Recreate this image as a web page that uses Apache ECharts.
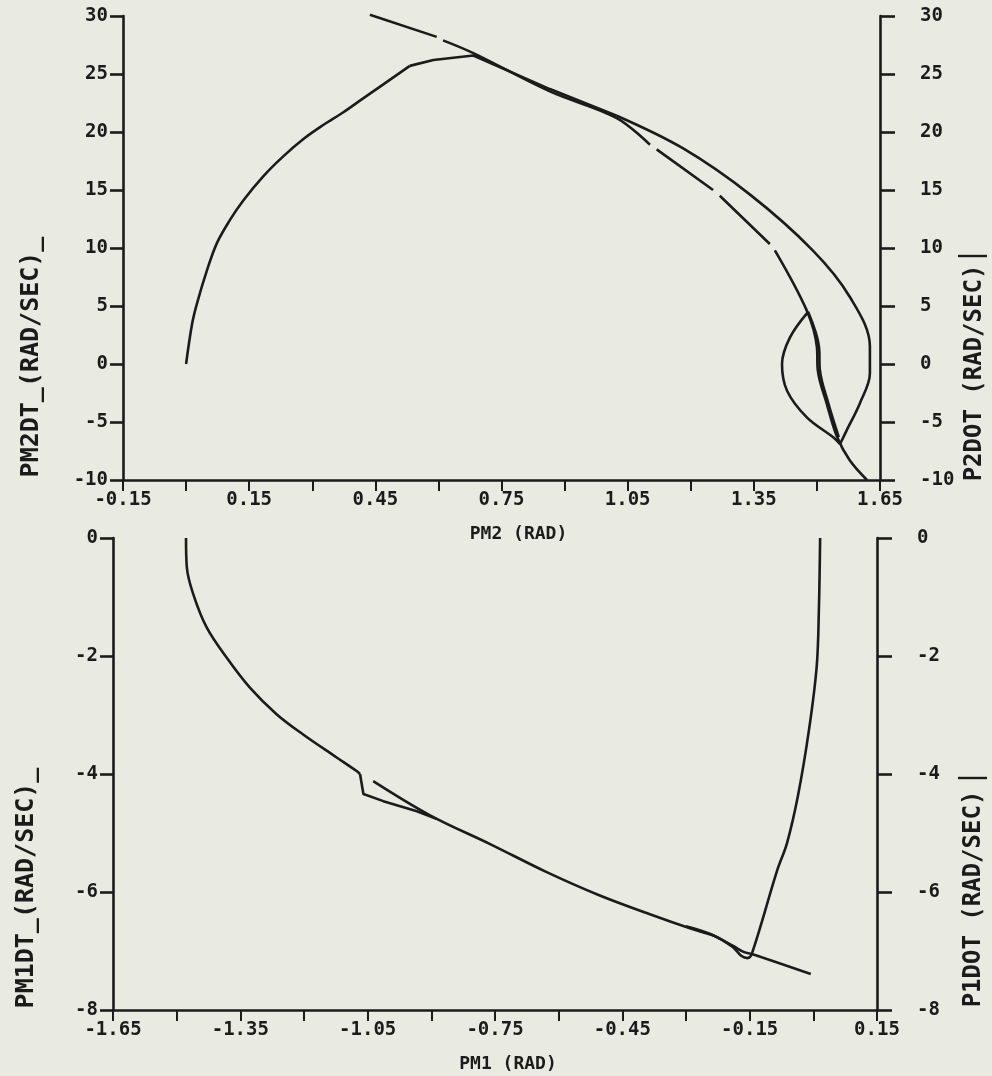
<!DOCTYPE html>
<html><head><meta charset="utf-8">
<script src="https://cdn.jsdelivr.net/npm/echarts/dist/echarts.min.js"></script>
<style>html,body{margin:0;padding:0;background:#e9eae2}#c{width:992px;height:1076px}</style>
</head><body><div id="c"></div><script>
// ---------- tick labels ----------
const topXTickLabels = ['-0.15','0.15','0.45','0.75','1.05','1.35','1.65'];
const topYTickLabels = ['-10','-5','0','5','10','15','20','25','30'];
const botXTickLabels = ['-1.65','-1.35','-1.05','-0.75','-0.45','-0.15','0.15'];
const botYTickLabels = ['-8','-6','-4','-2','0'];
// ---------- axis names ----------
const topXName = 'PM2 (RAD)';
const botXName = 'PM1 (RAD)';
const topLeftName = 'PM2DT_(RAD/SEC)_';
const topRightName = 'P2DOT (RAD/SEC)';
const botLeftName = 'PM1DT_(RAD/SEC)_';
const botRightName = 'P1DOT (RAD/SEC)';
// ---------- top plot: PM2 vs PM2DT ----------
const topSwitchA = [[0.437,30.1],[0.596,28.2]];
const topSwitchB = [[0.611,27.9],[0.683,26.8],[0.865,23.5],[1.024,21.2],[1.103,18.9]];
const topSwitchC = [[1.119,18.5],[1.253,15.0]];
const topSwitchD = [[1.269,14.5],[1.388,10.35]];
const topSwitchE = [[1.400,9.8],[1.476,4.6],[1.500,1.45],[1.502,-0.5],[1.524,-3.5],[1.548,-6.3],[1.578,-8.3],[1.619,-10.0]];
const topTrajArc = [[0.0,0.0],[0.014,3.4],[0.025,5.1],[0.049,8.0],[0.073,10.4],[0.104,12.4],[0.136,14.1],[0.184,16.2],[0.231,17.9],[0.279,19.4],[0.326,20.6],[0.374,21.7],[0.421,22.9],[0.469,24.1],[0.532,25.7]];
const topTrajKnee = [[0.532,25.7],[0.588,26.2],[0.683,26.6],[0.865,23.7],[1.024,21.4]];
const topTrajOuter = [[1.024,21.4],[1.181,18.6],[1.341,14.6],[1.490,9.8],[1.578,5.8],[1.626,1.5],[1.626,-0.8],[1.602,-3.4],[1.571,-5.7],[1.555,-6.9]];
const topTrajLens = [[1.555,-6.9],[1.538,-6.3],[1.476,-4.6],[1.429,-2.3],[1.417,0.0],[1.436,2.3],[1.479,4.5]];
const topTrajDown = [[1.479,4.5],[1.505,1.45],[1.507,-0.5],[1.528,-3.5],[1.552,-6.3]];
// ---------- bottom plot: PM1 vs PM1DT ----------
const botSwitchA = [[-1.478,0.0],[-1.476,-0.5],[-1.461,-0.95],[-1.429,-1.52],[-1.382,-2.03],[-1.327,-2.54],[-1.264,-2.99],[-1.202,-3.33],[-1.123,-3.72],[-1.076,-3.95],[-1.068,-4.0]];
const botSwitchB = [[-1.037,-4.12],[-0.903,-4.70],[-0.758,-5.20],[-0.632,-5.65],[-0.506,-6.05],[-0.380,-6.39],[-0.289,-6.62],[-0.235,-6.74],[-0.190,-6.91],[-0.163,-7.02],[-0.145,-7.05],[-0.006,-7.39]];
const botTrajKink = [[-1.068,-4.0],[-1.060,-4.34],[-1.013,-4.46],[-0.934,-4.63],[-0.888,-4.76]];
const botTrajEnd = [[-0.300,-6.58],[-0.240,-6.72],[-0.190,-6.93],[-0.170,-7.08],[-0.155,-7.12],[-0.145,-7.05],[-0.085,-5.63],[-0.062,-5.17],[-0.036,-4.36],[-0.010,-3.24],[0.008,-2.17],[0.013,-1.24],[0.016,0.0]];

const INK = '#1b1b1b';
const FONT = '"DejaVu Sans Mono", "Liberation Mono", monospace';

function xLabelFmt(labels, min, step) {
  return function (v) {
    const i = Math.round((v - min) / step);
    return (i % 2 === 0 && labels[i / 2] !== undefined) ? labels[i / 2] : '';
  };
}
function yLabelFmt(labels, min, step) {
  return function (v) {
    const i = Math.round((v - min) / step);
    return labels[i] !== undefined ? labels[i] : '';
  };
}
const axisLine = { show: true, onZero: false, lineStyle: { color: INK, width: 2.6 } };
const labelStyle = { color: INK, fontFamily: FONT, fontSize: 19, fontWeight: 'bold' };

function xAxis(grid, min, max, labels, name, pad, gap) {
  return {
    type: 'value', gridIndex: grid, min: min, max: max, interval: 0.15,
    axisLine: axisLine, splitLine: { show: false },
    axisTick: { show: true, length: 11, lineStyle: { color: INK, width: 2 } },
    axisLabel: Object.assign({ margin: 11, formatter: xLabelFmt(labels, min, 0.15) }, labelStyle),
    name: name, nameLocation: 'middle', nameGap: gap,
    nameTextStyle: { color: INK, fontFamily: FONT, fontSize: 18, fontWeight: 'bold', padding: [0, 0, 0, pad] }
  };
}
function yAxis(grid, min, max, interval, labels, pos) {
  return {
    type: 'value', gridIndex: grid, min: min, max: max, interval: interval, position: pos,
    axisLine: axisLine, splitLine: { show: false },
    axisTick: { show: true, length: pos === 'left' ? 13 : 15, lineStyle: { color: INK, width: 2.6 } },
    axisLabel: Object.assign({ margin: pos === 'left' ? 15 : 40, formatter: yLabelFmt(labels, min, interval) }, labelStyle)
  };
}
function line(data, xi, yi, smooth) {
  return {
    type: 'line', data: data, xAxisIndex: xi, yAxisIndex: yi, showSymbol: false, symbol: 'none',
    smooth: smooth ? 0.35 : false, clip: false, silent: true, animation: false,
    lineStyle: { color: INK, width: 2.6 }
  };
}
function vname(text, x, y, size) {
  return {
    type: 'text', x: x, y: y, rotation: Math.PI / 2, silent: true,
    style: { text: text, font: 'bold ' + size + 'px ' + FONT, fill: INK, align: 'center', verticalAlign: 'middle', textAlign: 'center', textVerticalAlign: 'middle' }
  };
}
function bar(x1, x2, y) {
  return { type: 'line', silent: true, shape: { x1: x1, y1: y, x2: x2, y2: y }, style: { stroke: INK, lineWidth: 2.4 } };
}

const chart = echarts.init(document.getElementById('c'), null, { renderer: 'canvas' });
chart.setOption({
  backgroundColor: '#e9eae2',
  animation: false,
  grid: [
    { left: 123, right: 112, top: 16, height: 464 },
    { left: 113, right: 115, top: 538, height: 472 }
  ],
  xAxis: [
    xAxis(0, -0.15, 1.65, topXTickLabels, topXName, 34, 45),
    xAxis(1, -1.65, 0.15, botXTickLabels, botXName, 26, 45)
  ],
  yAxis: [
    yAxis(0, -10, 30, 5, topYTickLabels, 'left'),
    yAxis(0, -10, 30, 5, topYTickLabels, 'right'),
    yAxis(1, -8, 0, 2, botYTickLabels, 'left'),
    yAxis(1, -8, 0, 2, botYTickLabels, 'right')
  ],
  graphic: [
    vname(topLeftName, 31, 357, 25),
    vname(topRightName, 975, 373, 24),
    vname(botLeftName, 26, 888, 25),
    vname(botRightName, 974, 899, 24),
    bar(958, 987, 256),
    bar(958, 987, 778)
  ],
  series: [
    line(topSwitchA, 0, 0, false),
    line(topSwitchB, 0, 0, true),
    line(topSwitchC, 0, 0, false),
    line(topSwitchD, 0, 0, false),
    line(topSwitchE, 0, 0, true),
    line(topTrajArc, 0, 0, true),
    line(topTrajKnee, 0, 0, false),
    line(topTrajOuter, 0, 0, true),
    line(topTrajLens, 0, 0, true),
    line(topTrajDown, 0, 0, true),
    line(botSwitchA, 1, 2, true),
    line(botSwitchB, 1, 2, true),
    line(botTrajKink, 1, 2, false),
    line(botTrajEnd, 1, 2, true)
  ]
});
</script></body></html>
